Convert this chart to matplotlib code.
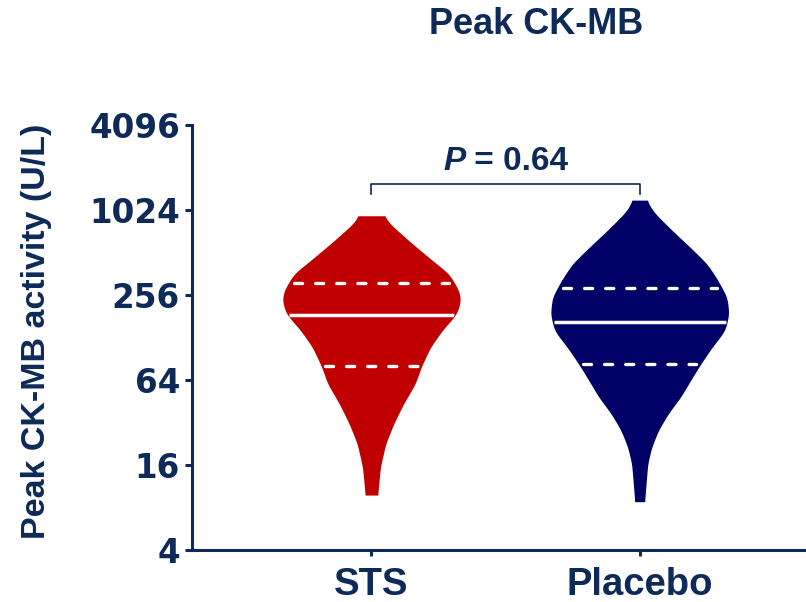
import numpy as np
import matplotlib
matplotlib.use("Agg")
import matplotlib.pyplot as plt
from matplotlib.transforms import Affine2D
from matplotlib.ticker import NullLocator
from matplotlib.patches import Polygon

# ---- data -------------------------------------------------------------
groups = ["STS", "Placebo"]
fill_colors = ["#C00000", "#000066"]

# Density profile of each group along the CK-MB axis (U/L -> relative width)
sts_levels = [9.8, 15.5, 22.7, 31.4, 43.5, 60, 80, 109, 143, 188, 234, 275,
              361, 473, 620, 814, 932]
sts_density = [0.07, 0.10, 0.16, 0.25, 0.36, 0.49, 0.56, 0.66, 0.79, 0.955,
               1.0, 0.98, 0.87, 0.64, 0.42, 0.21, 0.14]

placebo_levels = [8.8, 16.4, 21.5, 28.2, 37, 48.5, 63.6, 82.5, 109, 143, 188,
                  247, 324, 425, 556, 730, 958, 1067, 1203]
placebo_density = [0.055, 0.09, 0.135, 0.21, 0.32, 0.46, 0.57, 0.68, 0.81,
                   0.955, 1.0, 0.978, 0.878, 0.756, 0.567, 0.367, 0.178,
                   0.122, 0.078]

# Q1, median, Q3 (U/L)
sts_quartiles = [80, 186, 309]
placebo_quartiles = [82.5, 164, 285]

y_ticks = [4, 16, 64, 256, 1024, 4096]
p_value = 0.64

# ---- style --------------------------------------------------------------
navy = "#0D2A58"
plt.rcParams["lines.scale_dashes"] = False
sans = ["Liberation Sans", "DejaVu Sans"]

fig = plt.figure(figsize=(8.06, 6.02), dpi=100)
ax = fig.add_axes([192 / 806, 52 / 602, 1 - 192 / 806, 425 / 602])

ax.set_yscale("log", base=2)
ax.set_ylim(4, 4096)
ax.set_xlim(-0.669, 1.62)

half_width = 0.333


def outline(levels, density, n=500):
    lv = np.log2(levels)
    grid = np.linspace(lv[0], lv[-1], n)
    w = np.interp(grid, lv, density)
    k = np.exp(-0.5 * (np.arange(-18, 19) / 7.0) ** 2)
    k /= k.sum()
    ws = np.convolve(np.pad(w, 18, mode="edge"), k, mode="valid")
    return grid, ws


profiles = [(sts_levels, sts_density, sts_quartiles),
            (placebo_levels, placebo_density, placebo_quartiles)]

for pos, ((lev, dens, quart), col) in enumerate(zip(profiles, fill_colors)):
    grid, ws = outline(lev, dens)
    y = 2 ** grid
    hw = ws * half_width
    ax.fill_betweenx(y, pos - hw, pos + hw, color=col, lw=0, zorder=2)
    verts = np.vstack([np.column_stack([pos - hw, y]),
                       np.column_stack([pos + hw, y])[::-1]])
    clip = Polygon(verts, closed=True, transform=ax.transData,
                   facecolor="none", edgecolor="none")
    ax.add_patch(clip)
    for i, q in enumerate(quart):
        h = np.interp(np.log2(q), grid, ws) * half_width
        if i == 1:
            ln, = ax.plot([pos - h * 0.985, pos + h * 0.985], [q, q],
                          color="white", lw=2.5, solid_capstyle="butt",
                          zorder=3)
        else:
            ln, = ax.plot([pos - h * 0.93, pos + h * 0.93], [q, q],
                          color="white", lw=2.4, dash_capstyle="round",
                          linestyle=(0, (5.8, 9.4)), zorder=3)
        ln.set_clip_path(clip)

# significance bracket
ax.plot([0, 0, 1, 1], [1330, 1570, 1570, 1330], color=navy, lw=1.2,
        clip_on=False, zorder=4)
t1 = ax.text(0.5, 1970, "P", ha="right", va="baseline", color=navy,
             fontsize=24, fontweight="bold", fontstyle="italic",
             family=sans, clip_on=False)
t2 = ax.text(0.5, 1970, f" = {p_value:.2f}", ha="left", va="baseline",
             color=navy, fontsize=24, fontweight="bold", family=sans,
             clip_on=False)

# axes
for side in ("top", "right"):
    ax.spines[side].set_visible(False)
for side in ("left", "bottom"):
    ax.spines[side].set_color(navy)
    ax.spines[side].set_linewidth(2.2)

ax.set_yticks(y_ticks)
ax.set_yticklabels([str(v) for v in y_ticks])
ax.yaxis.set_minor_locator(NullLocator())
ax.tick_params(axis="y", length=5, width=2.2, color=navy, pad=3.6,
               labelcolor=navy, labelsize=23.5)
for lab in ax.get_yticklabels():
    lab.set_fontweight("bold")
    lab.set_family("DejaVu Sans")

ax.set_xticks([0, 1])
ax.set_xticklabels(groups)
ax.tick_params(axis="x", length=4.3, width=2.2, color=navy, pad=8,
               labelcolor=navy, labelsize=27.5)
for lab in ax.get_xticklabels():
    lab.set_fontweight("bold")
    lab.set_family(sans)

fig.text(536 / 806, 1 - 25 / 602, "Peak CK-MB", ha="center", va="center",
         color=navy, fontsize=26, fontweight="bold", family=sans)
fig.text(37 / 806, 1 - 331 / 602, "Peak CK-MB activity (U/L)", rotation=90,
         ha="center", va="center", color=navy, fontsize=24.5,
         fontweight="bold", family=sans)

# centre the two-part p-value label over the bracket
fig.canvas.draw()
r = fig.canvas.get_renderer()
w1 = t1.get_window_extent(r).width
w2 = t2.get_window_extent(r).width
shift = Affine2D().translate((w1 - w2) / 2, 0)
t1.set_transform(ax.transData + shift)
t2.set_transform(ax.transData + shift)

fig.savefig("out.png", dpi=100)
